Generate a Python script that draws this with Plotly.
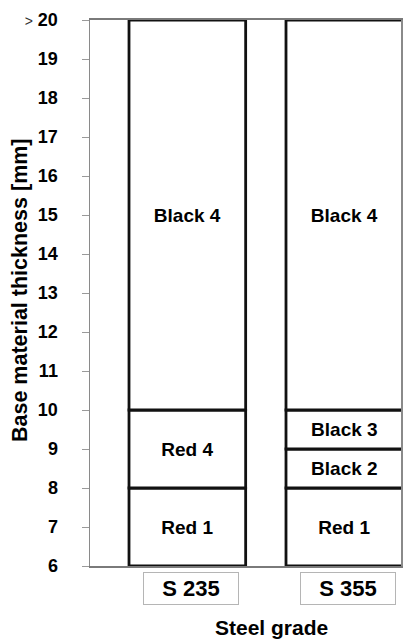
import plotly.graph_objects as go

# ---- data ----
grades = ["S 235", "S 355"]
s235_labels = ["Red 1", "Red 4", "Black 4"]
s235_bounds = [6, 8, 10, 20]
s355_labels = ["Red 1", "Black 2", "Black 3", "Black 4"]
s355_bounds = [6, 8, 9, 10, 20]
y_ticks = list(range(6, 21))
y_ticktext = [str(v) for v in y_ticks[:-1]] + [
    "<span style='font-size:14px;font-weight:normal;fill:#333'>></span> 20"]
y_title = "Base material thickness [mm]"
x_title = "Steel grade"

FONT = "Liberation Sans, Arial, sans-serif"

fig = go.Figure()

segments = {grades[0]: (s235_labels, s235_bounds),
            grades[1]: (s355_labels, s355_bounds)}
for g, (labels, bounds) in segments.items():
    for i, lab in enumerate(labels):
        fig.add_trace(go.Bar(
            x=[g], y=[bounds[i + 1] - bounds[i]], base=[bounds[i]],
            width=0.743,
            text=[lab], textposition="inside", insidetextanchor="middle",
            constraintext="none",
            textfont=dict(family=FONT, size=19, color="black", weight="bold"),
            marker=dict(color="white", line=dict(color="#111111", width=2.8)),
            showlegend=False, hoverinfo="skip",
        ))

fig.update_layout(
    width=404, height=639,
    margin=dict(l=90, r=1, t=20, b=73),
    barmode="overlay",
    plot_bgcolor="white", paper_bgcolor="white",
    uniformtext=dict(minsize=19, mode="show"),
    font=dict(family=FONT, color="black"),
    xaxis=dict(type="category", categoryarray=grades, range=[-0.620, 1.361],
               showticklabels=False, ticks="", showgrid=False,
               showline=True, linecolor="#7a7a7a", linewidth=2, mirror=True,
               zeroline=False),
    yaxis=dict(range=[6, 20], tickvals=y_ticks, ticktext=y_ticktext,
               ticks="outside", ticklen=7, tickcolor="#9a9a9a", tickwidth=1,
               tickfont=dict(family=FONT, size=18, color="black", weight="bold"),
               ticklabelstandoff=20,
               showgrid=False, zeroline=False,
               showline=True, linecolor="#8a8a8a", linewidth=1.5, mirror=True),
)

# category label boxes
for g in grades:
    fig.add_annotation(
        x=g, xref="x", y=0, yref="paper", yanchor="top", yshift=-6, xshift=4,
        text=g, showarrow=False,
        font=dict(family=FONT, size=22, color="black", weight="bold"),
        width=94, height=31, borderpad=0,
        bordercolor="#b5b5b5", borderwidth=1, bgcolor="white",
    )

# axis titles
fig.add_annotation(
    x=0.583, xref="paper", y=0, yref="paper", yanchor="top", yshift=-48,
    text=x_title, showarrow=False,
    font=dict(family=FONT, size=21, color="black", weight="bold"),
)
fig.add_annotation(
    x=0, xref="paper", xanchor="center", xshift=-70,
    y=0.5, yref="paper", yanchor="middle", yshift=3,
    text=y_title, textangle=-90, showarrow=False,
    font=dict(family=FONT, size=21.5, color="black", weight="bold"),
)

fig.write_html(
    "out.html",
    config={"displayModeBar": False, "staticPlot": True},
    post_script="document.body.style.margin='0';document.body.style.padding='0';"
                "document.body.style.overflow='hidden';",
)
